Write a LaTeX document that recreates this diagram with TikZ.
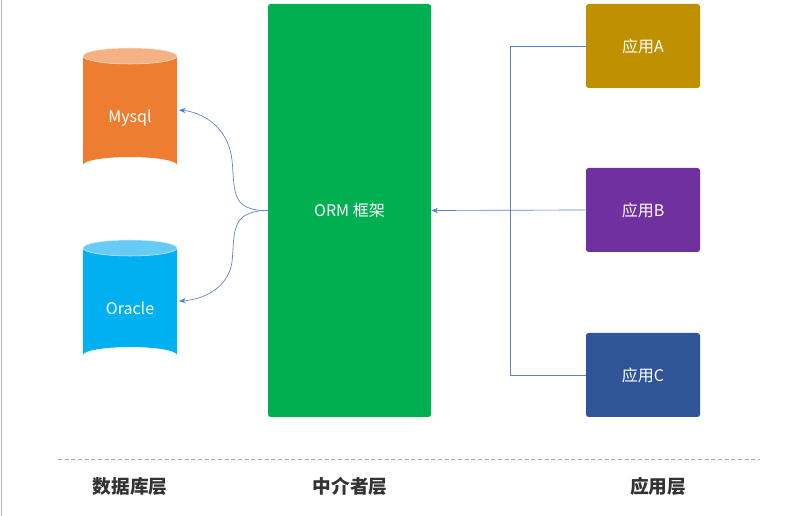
\documentclass[tikz,border=0pt]{standalone}
\usepackage{fontspec}
\setmainfont{Noto Sans CJK SC}
\usetikzlibrary{arrows.meta}
\definecolor{myo}{HTML}{ED7D31}\definecolor{myot}{HTML}{F4B183}
\definecolor{orb}{HTML}{00B0F0}\definecolor{orbt}{HTML}{66CCF5}
\definecolor{ormg}{HTML}{00B050}
\definecolor{ca}{HTML}{BF9000}\definecolor{cb}{HTML}{7030A0}\definecolor{cc}{HTML}{2F5597}
\definecolor{ln}{HTML}{5B7FCF}
\begin{document}
\begin{tikzpicture}[x=0.75pt,y=-0.75pt,
  box/.style={rounded corners=2pt,text=white,font=\fontsize{12}{14}\selectfont,draw=none},
  con/.style={draw=ln,line width=0.5pt},
  lab/.style={font=\bfseries\fontsize{14}{16}\selectfont,text=black!80}]
\useasboundingbox (0,0) rectangle (789,516);
\draw[gray!60] (1,0) -- (1,516);
% cylinders
\newcommand{\cyl}[5]{% x1 x2 ytop ybot colors
  \fill[#5] (#1,#3) -- (#1,#4) arc[start angle=180,end angle=360,x radius={(#2-#1)/2},y radius=9] -- (#2,#3) -- cycle;
}
\fill[myo] (83,56) -- (83,165) arc[start angle=180,end angle=360,x radius=47,y radius=8] -- (177,56) -- cycle;
\fill[myot,draw=white!80!myo] (130,56) ellipse[x radius=47,y radius=8];
\node[text=white,font=\fontsize{12}{14}\selectfont] (my) at (130,118) {Mysql};
\fill[orb] (83,248) -- (83,355) arc[start angle=180,end angle=360,x radius=47,y radius=8] -- (177,248) -- cycle;
\fill[orbt,draw=white!80!orb] (130,248) ellipse[x radius=47,y radius=8];
\node[text=white,font=\fontsize{12}{14}\selectfont] (or) at (130,308) {Oracle};
\coordinate (myR) at (179,110);
\coordinate (orR) at (179,301);
% ORM
\node[box,fill=ormg,minimum width=163*0.75pt,minimum height=413*0.75pt] (orm) at (349.5,210.5) {ORM 框架};
% apps
\node[box,fill=ca,minimum width=114*0.75pt,minimum height=84*0.75pt] (a) at (643,46) {应用A};
\node[box,fill=cb,minimum width=114*0.75pt,minimum height=84*0.75pt] (b) at (643,210) {应用B};
\node[box,fill=cc,minimum width=114*0.75pt,minimum height=84*0.75pt] (c) at (643,375) {应用C};
% connectors
\draw[con,-{Stealth[length=5pt,width=4pt]}] (orm.west) .. controls (230,211) and (235,190) .. (232,160) .. controls (228,125) and (200,112) .. (myR);
\draw[con,-{Stealth[length=5pt,width=4pt]}] (orm.west) .. controls (230,211) and (235,232) .. (232,262) .. controls (228,290) and (200,300) .. (orR);
\draw[con] (a.west) -- (510,46) -- (510,375) -- (c.west);
\draw[con,-{Stealth[length=5pt,width=4pt]}] (b.west) -- (orm.east);
% bottom
\draw[gray!70,dashed,dash pattern=on 3pt off 2pt] (58,459) -- (760,459);
\node[lab] (l1) at (130,486) {数据库层};
\node[lab] (l2) at (350,486) {中介者层};
\node[lab] (l3) at (658,486) {应用层};
\end{tikzpicture}
\end{document}
